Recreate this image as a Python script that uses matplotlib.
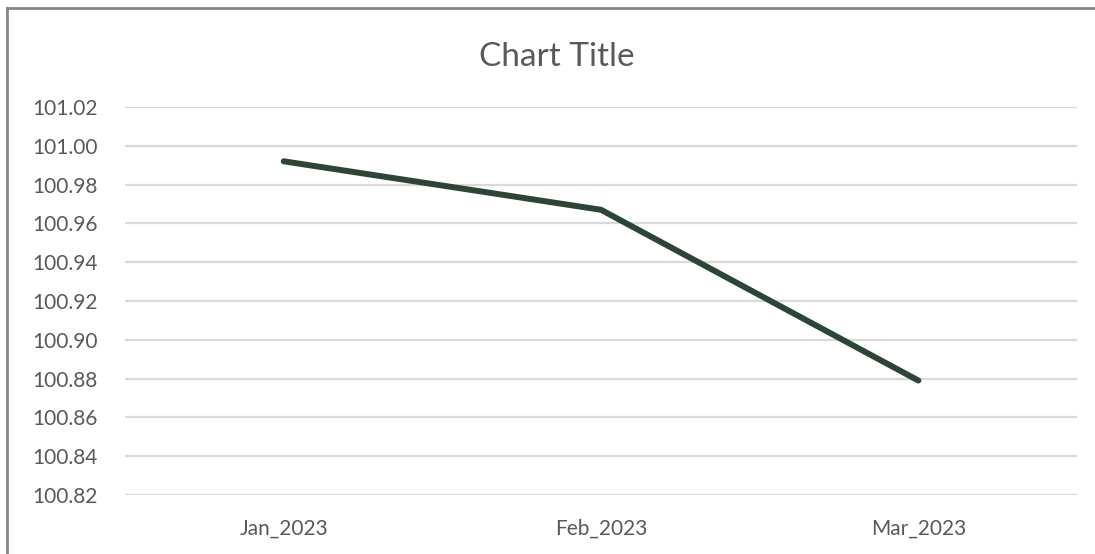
import matplotlib.pyplot as plt
from matplotlib.lines import Line2D

months = ['Jan_2023', 'Feb_2023', 'Mar_2023']
values = [100.992, 100.967, 100.879]
yticks = [100.82, 100.84, 100.86, 100.88, 100.90, 100.92, 100.94, 100.96, 100.98, 101.00, 101.02]

plt.rcParams['font.family'] = ['Lato', 'DejaVu Sans']

fig = plt.figure(figsize=(10.95, 5.54), dpi=100)
ax = fig.add_axes([0.1142, 0.1065, 0.8694, 0.7004])

x = list(range(len(months)))
ax.plot(x, values, color='#2b4536', linewidth=4.3, solid_capstyle='round', solid_joinstyle='round', zorder=3)

ax.set_xlim(-0.5, 2.5)
ax.set_ylim(100.82, 101.02)
ax.set_yticks(yticks)
ax.set_yticklabels(['%.2f' % v for v in yticks])
ax.set_xticks(x)
ax.set_xticklabels(months)
ax.grid(axis='y', color='#d9d9d9', linewidth=1.6)
ax.set_axisbelow(True)
for s in ax.spines.values():
    s.set_visible(False)
ax.tick_params(length=0, labelsize=15, labelcolor='#595959')
ax.tick_params(axis='y', pad=20)
ax.tick_params(axis='x', pad=17)

fig.text(0.508, 0.897, 'Chart Title', ha='center', va='center', fontsize=24, color='#595959')

# border of the chart frame (only top and left visible)
fig.add_artist(Line2D([6.5/1095, 1.0], [1 - 7.5/554, 1 - 7.5/554], transform=fig.transFigure, color='#878787', linewidth=2))
fig.add_artist(Line2D([6.5/1095, 6.5/1095], [0.0, 1 - 7.5/554], transform=fig.transFigure, color='#878787', linewidth=2))

plt.savefig('out.png', dpi=100)
